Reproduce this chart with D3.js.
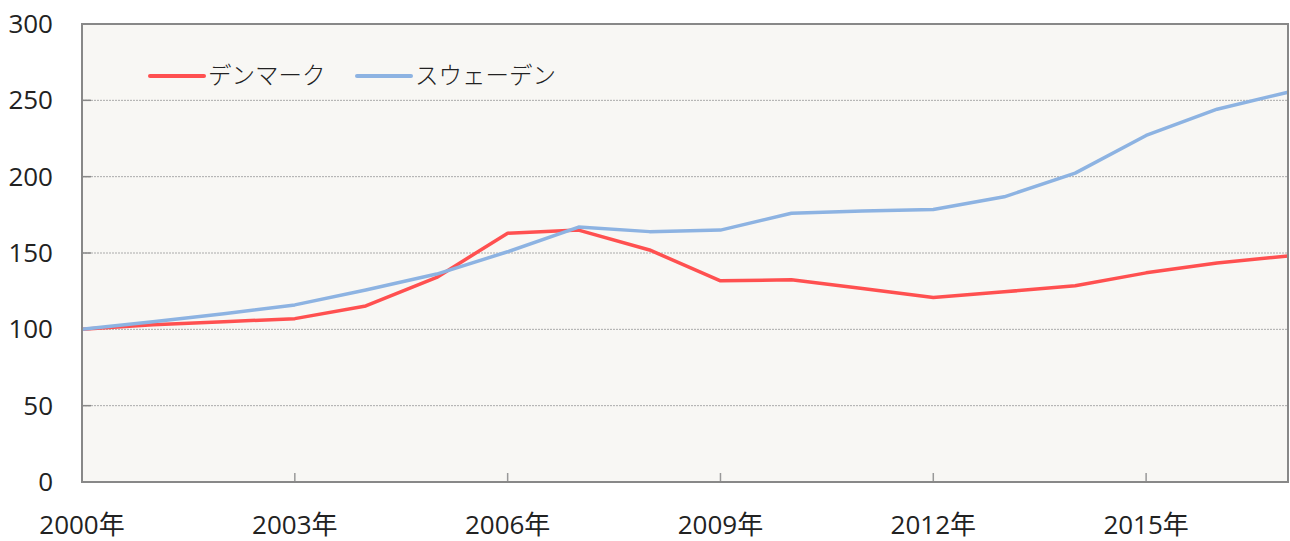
<!DOCTYPE html>
<html><head><meta charset="utf-8">
<script src="https://cdn.jsdelivr.net/npm/d3@7"></script>
<style>
body{margin:0;background:#fff;}
svg text{font-family:"Open Sans","Noto Sans CJK JP",sans-serif;fill:#222;font-weight:400;}
svg text.leg{font-family:"Noto Sans CJK JP",sans-serif;font-weight:300;}
</style></head>
<body><svg id="c" width="1290" height="541"></svg>
<script>
const years = [2000,2001,2002,2003,2004,2005,2006,2007,2008,2009,2010,2011,2012,2013,2014,2015,2016,2017];
const denmark = [100,103,105,107,115.3,134,163,165,152,131.8,132.5,126.8,120.8,124.6,128.5,137,143.5,148];
const sweden  = [100,105,110.2,116,125.8,136.2,150.8,167,164,165,176,177.5,178.5,186.8,202.3,227,244.2,255.3];
const seriesNames = ["デンマーク","スウェーデン"];
const seriesColors = ["#ff5050","#8db3e2"];
const yTicks = [0,50,100,150,200,250,300];
const xTicks = [2000,2003,2006,2009,2012,2015];

const svg = d3.select("#c");
const L=82,R=1288,T=24,B=482;
const x = d3.scaleLinear().domain([2000,2017]).range([L,R]);
const y = d3.scaleLinear().domain([0,300]).range([B,T]);

svg.append("rect").attr("x",L).attr("y",T).attr("width",R-L).attr("height",B-T).attr("fill","#f8f7f4");

svg.append("g").selectAll("line").data(yTicks.filter(d=>d>0&&d<300)).join("line")
  .attr("x1",L).attr("x2",R).attr("y1",d=>y(d)).attr("y2",d=>y(d))
  .attr("stroke","#aaa").attr("stroke-width",1).attr("stroke-dasharray","2,1");
svg.append("g").selectAll("line").data(yTicks.filter(d=>d>0&&d<300)).join("line")
  .attr("x1",L).attr("x2",L+9).attr("y1",d=>y(d)).attr("y2",d=>y(d))
  .attr("stroke","#888").attr("stroke-width",1.5);
svg.append("g").selectAll("line").data(xTicks.slice(1)).join("line")
  .attr("x1",d=>x(d)).attr("x2",d=>x(d)).attr("y1",B).attr("y2",B-9)
  .attr("stroke","#999").attr("stroke-width",1.5);

const line = d3.line().x((d,i)=>x(years[i])).y(d=>y(d));
[denmark,sweden].forEach((s,k)=>{
  svg.append("path").datum(s).attr("d",line).attr("fill","none")
    .attr("stroke",seriesColors[k]).attr("stroke-width",3.5).attr("stroke-linejoin","round");
});

svg.append("rect").attr("x",L).attr("y",T).attr("width",R-L).attr("height",B-T)
  .attr("fill","none").attr("stroke","#888").attr("stroke-width",2);

svg.append("g").selectAll("text").data(yTicks).join("text")
  .attr("x",53).attr("y",d=>y(d)+9).attr("text-anchor","end")
  .attr("font-size",26).text(d=>d);
svg.append("g").selectAll("text").data(xTicks).join("text")
  .attr("x",d=>x(d)).attr("y",534).attr("text-anchor","middle")
  .attr("font-size",26).text(d=>d+"年");

const lx=[150,357];
seriesNames.forEach((n,k)=>{
  svg.append("line").attr("x1",lx[k]).attr("x2",lx[k]+54).attr("y1",76).attr("y2",76)
    .attr("stroke",seriesColors[k]).attr("stroke-width",4).attr("stroke-linecap","round");
  svg.append("text").attr("class","leg").attr("x",lx[k]+58).attr("y",84).attr("font-size",23.5).text(n);
});
</script></body></html>
